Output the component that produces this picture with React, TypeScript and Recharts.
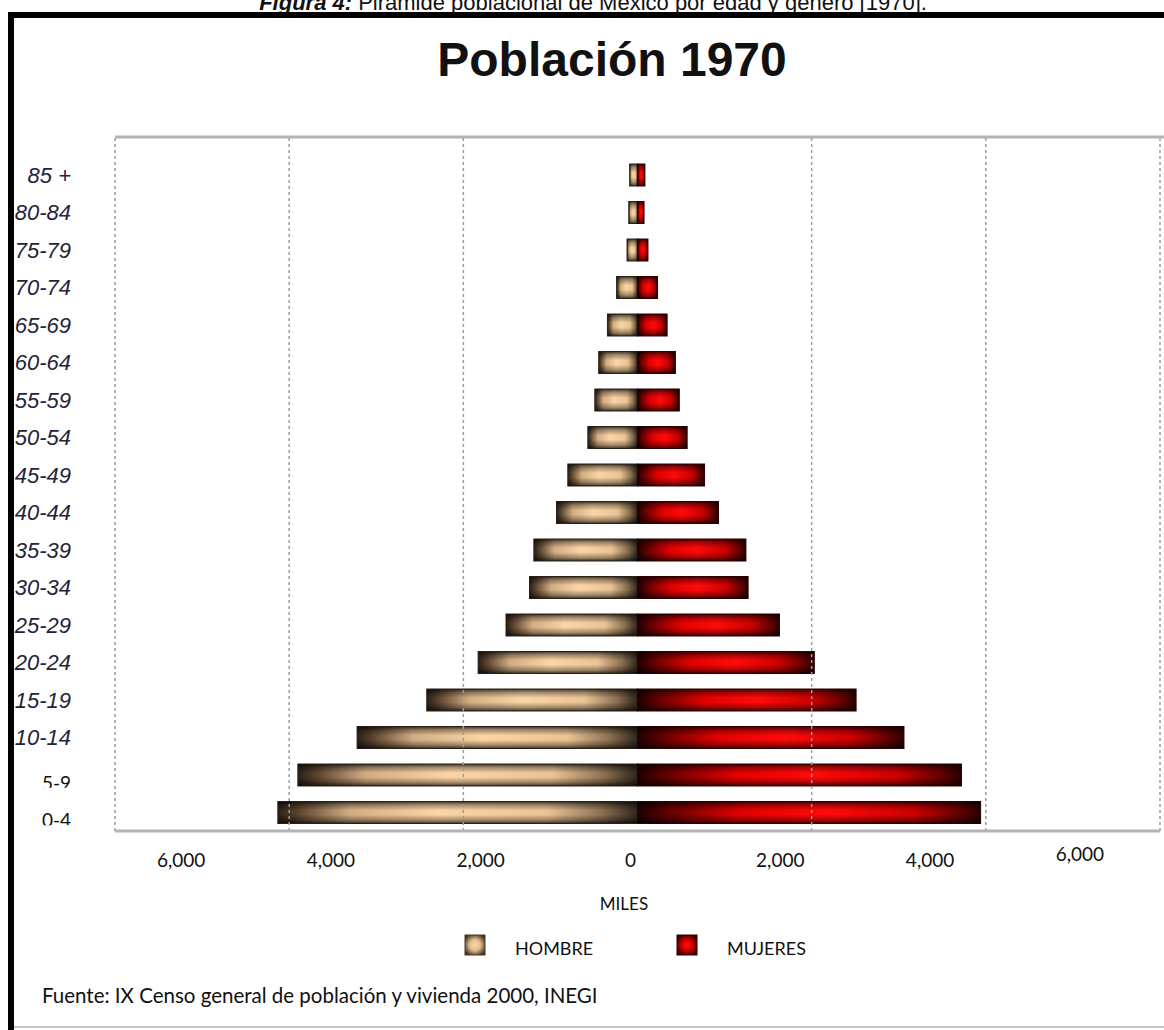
import React from 'react';
import { BarChart, Bar, XAxis, YAxis, ReferenceLine } from 'recharts';

// Población de México 1970 por grupo de edad (miles)
const ageGroups = ['0-4', '5-9', '10-14', '15-19', '20-24', '25-29', '30-34', '35-39', '40-44', '45-49', '50-54', '55-59', '60-64', '65-69', '70-74', '75-79', '80-84', '85 +'];
const hombres = [4130, 3900, 3220, 2420, 1830, 1510, 1240, 1190, 930, 800, 570, 490, 445, 345, 240, 120, 100, 90];
const mujeres = [3940, 3720, 3060, 2510, 2030, 1630, 1270, 1245, 930, 770, 570, 480, 435, 340, 230, 120, 75, 85];

const xTicks = [-6000, -4000, -2000, 0, 2000, 4000, 6000];
const gridLines = [-6000, -4000, -2000, 2000, 4000, 6000];
// these two labels use a different font in the original chart
const plainLabels = ['0-4', '5-9'];

const W = 1164;
const H = 1030;
const PLOT_LEFT = 115;
const PLOT_RIGHT = 1160;
const PLOT_TOP = 137;
const CENTER = (PLOT_LEFT + PLOT_RIGHT) / 2;

const calibri = 'Lato, "Open Sans", sans-serif';
const arial = '"Liberation Sans", Arial, sans-serif';

const data = ageGroups.map((age, i) => ({
  age,
  hombre: -hombres[i],
  mujer: mujeres[i],
}));

function GradientBar(props: any) {
  const { x, y, width, height, fillId, stroke } = props;
  if (!width || !height) return null;
  const x0 = Math.min(x, x + width);
  const w = Math.abs(width);
  return (
    <g>
      <rect x={x0} y={y} width={w} height={height} fill={`url(#${fillId})`} />
      <rect x={x0} y={y} width={w} height={height} fill="url(#barShade)" stroke={stroke} strokeWidth={1} />
    </g>
  );
}

function AgeTick(props: any) {
  const { x, y, payload } = props;
  const label = payload.value as string;
  if (plainLabels.includes(label)) {
    const clipId = `clip-${label}`;
    return (
      <g>
        <defs>
          <clipPath id={clipId}>
            <rect x={0} y={y - 20} width={110} height={33} />
          </clipPath>
        </defs>
        <text x={x - 67} y={y + 15} fontFamily={calibri} fontSize={19} fill="#111" clipPath={`url(#${clipId})`}>
          {label}
        </text>
      </g>
    );
  }
  return (
    <text x={x - 38} y={y + 8} textAnchor="end" fontFamily={arial} fontStyle="italic" fontSize={22} fill="#24243a">
      {label}
    </text>
  );
}

function ValueTick(props: any) {
  const { x, y, payload } = props;
  const v = payload.value as number;
  // labels sit a bit inward of their gridlines
  const lx = CENTER + (x - CENTER) * 0.86 - 7;
  const dy = v === 6000 ? -6 : 0;
  return (
    <text x={lx} y={y + 28 + dy} textAnchor="middle" fontFamily={calibri} fontSize={19} fill="#111">
      {Math.abs(v).toLocaleString('en-US')}
    </text>
  );
}

function Overlay() {
  return (
    <svg width={W} height={H} style={{ position: 'absolute', left: 0, top: 0, pointerEvents: 'none' }}>
      <defs>
        <radialGradient id="swatchHombre" cx="50%" cy="50%" r="60%">
          <stop offset="0%" stopColor="#fbd7a8" />
          <stop offset="45%" stopColor="#e2bd8e" />
          <stop offset="100%" stopColor="#3a2c1c" />
        </radialGradient>
        <radialGradient id="swatchMujer" cx="50%" cy="50%" r="60%">
          <stop offset="0%" stopColor="#ff1010" />
          <stop offset="45%" stopColor="#d00000" />
          <stop offset="100%" stopColor="#2a0000" />
        </radialGradient>
      </defs>
      <text x={593} y={10} textAnchor="middle" fontFamily={arial} fontSize={22} fill="#111">
        <tspan fontWeight="bold" fontStyle="italic">Figura 4:</tspan> Pirámide poblacional de México por edad y género [1970].
      </text>
      <rect x={8} y={12} width={W} height={6} fill="#000" />
      <rect x={8} y={12} width={6} height={H} fill="#000" />
      <rect x={14} y={1026} width={W} height={2} fill="#c4c4c4" />
      {/* upper border of the plot area */}
      <line x1={PLOT_LEFT} x2={W} y1={PLOT_TOP} y2={PLOT_TOP} stroke="#b4b4b4" strokeWidth={3} />
      <text x={612} y={76} textAnchor="middle" fontFamily={arial} fontWeight="bold" fontSize={48} fill="#111">
        Población 1970
      </text>
      <text x={624} y={910} textAnchor="middle" fontFamily={calibri} fontSize={17} fill="#111">
        MILES
      </text>
      <rect x={465} y={935} width={20} height={20} fill="url(#swatchHombre)" stroke="#4a3a28" strokeWidth={1} />
      <text x={515} y={955} fontFamily={calibri} fontSize={18} fill="#111">HOMBRE</text>
      <rect x={677} y={935} width={20} height={20} fill="url(#swatchMujer)" stroke="#300000" strokeWidth={1} />
      <text x={727} y={955} fontFamily={calibri} fontSize={18} fill="#111">MUJERES</text>
      <text x={42} y={1003} fontFamily={calibri} fontSize={20.5} fill="#111">
        Fuente: IX Censo general de población y vivienda 2000, INEGI
      </text>
    </svg>
  );
}

export default function App() {
  return (
    <div style={{ position: 'fixed', left: 0, top: 0, width: W, height: H, overflow: 'hidden', background: '#fff' }}>
      <div style={{ position: 'absolute', left: 0, top: 0 }}>
        <BarChart
          width={W}
          height={900}
          data={data}
          layout="vertical"
          stackOffset="sign"
          barSize={22}
          margin={{ top: PLOT_TOP, right: W - PLOT_RIGHT, bottom: 0, left: 0 }}
        >
          <defs>
            <linearGradient id="fillHombre" x1="0" y1="0" x2="1" y2="0">
              <stop offset="0%" stopColor="#2b2016" />
              <stop offset="6%" stopColor="#5e4630" />
              <stop offset="20%" stopColor="#d2ad82" />
              <stop offset="45%" stopColor="#fbd5a5" />
              <stop offset="75%" stopColor="#eac394" />
              <stop offset="90%" stopColor="#8b7152" />
              <stop offset="100%" stopColor="#2f261b" />
            </linearGradient>
            <linearGradient id="fillMujer" x1="0" y1="0" x2="1" y2="0">
              <stop offset="0%" stopColor="#200000" />
              <stop offset="10%" stopColor="#680000" />
              <stop offset="30%" stopColor="#e00000" />
              <stop offset="55%" stopColor="#ff0a0a" />
              <stop offset="80%" stopColor="#cc0000" />
              <stop offset="93%" stopColor="#6a0000" />
              <stop offset="100%" stopColor="#2a0000" />
            </linearGradient>
            <linearGradient id="barShade" x1="0" y1="0" x2="0" y2="1">
              <stop offset="0%" stopColor="#000" stopOpacity={0.75} />
              <stop offset="15%" stopColor="#000" stopOpacity={0.35} />
              <stop offset="40%" stopColor="#000" stopOpacity={0} />
              <stop offset="60%" stopColor="#000" stopOpacity={0} />
              <stop offset="85%" stopColor="#000" stopOpacity={0.35} />
              <stop offset="100%" stopColor="#000" stopOpacity={0.75} />
            </linearGradient>
          </defs>
          <XAxis
            type="number"
            domain={[-6000, 6000]}
            ticks={xTicks}
            height={69}
            tickLine={false}
            axisLine={{ stroke: '#b4b4b4', strokeWidth: 3 }}
            tick={<ValueTick />}
            interval={0}
          />
          <YAxis
            type="category"
            dataKey="age"
            reversed
            width={PLOT_LEFT}
            tickLine={false}
            axisLine={false}
            tickMargin={0}
            interval={0}
            padding={{ top: 19, bottom: 0 }}
            tick={<AgeTick />}
          />
          {gridLines.map((v) => (
            <ReferenceLine key={v} x={v} stroke="#9c9c9c" strokeWidth={1.5} strokeDasharray="3 3" />
          ))}
          <Bar
            dataKey="hombre"
            name="HOMBRE"
            stackId="pop"
            isAnimationActive={false}
            shape={(p: any) => <GradientBar {...p} fillId="fillHombre" stroke="#2a2016" />}
          />
          <Bar
            dataKey="mujer"
            name="MUJERES"
            stackId="pop"
            isAnimationActive={false}
            shape={(p: any) => <GradientBar {...p} fillId="fillMujer" stroke="#2a0000" />}
          />
        </BarChart>
      </div>
      <Overlay />
    </div>
  );
}
